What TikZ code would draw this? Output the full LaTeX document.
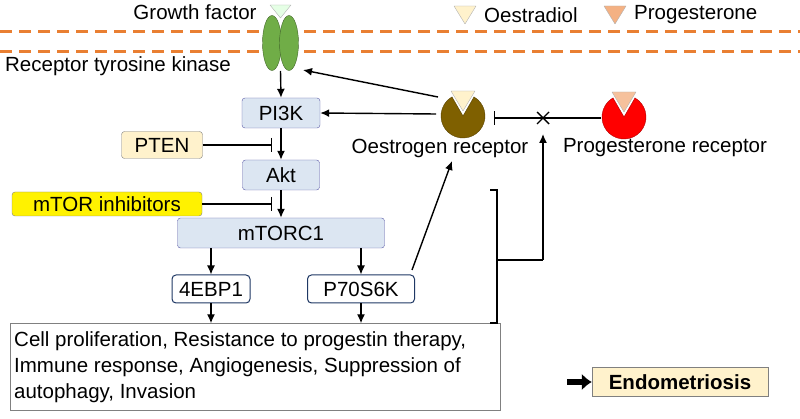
\documentclass[tikz,border=0pt]{standalone}
\usepackage{fontspec}
\setmainfont{Liberation Sans}
\usetikzlibrary{arrows.meta,shapes.geometric,calc}
\definecolor{bl}{HTML}{DCE6F2}
\definecolor{dg}{HTML}{1F3864}
\definecolor{orng}{HTML}{E97F32}
\definecolor{olive}{HTML}{7F6000}
\definecolor{cream}{HTML}{FFF2CC}
\definecolor{peach}{HTML}{F4B183}
\definecolor{gr}{HTML}{70AD47}
\begin{document}
\begin{tikzpicture}[x=1pt,y=-1pt,
  every node/.style={font=\fontsize{20.5}{24}\selectfont, inner sep=0pt},
  bx/.style={draw=gray!70!blue, fill=bl, rounded corners=3pt, minimum height=30pt},
  wb/.style={draw=dg, fill=white, rounded corners=4pt, minimum height=28pt, line width=1pt},
  ar/.style={-{Latex[length=9pt,width=8pt]}, line width=1.4pt},
  inh/.style={-{Bar[width=14pt]}, line width=1.4pt},
  tri/.style={draw=gray!60, line join=round}]
\useasboundingbox (0,0) rectangle (800,419);
\draw[orng, line width=3pt, dash pattern=on 12pt off 7pt] (0,32) -- (800,32) (0,52) -- (800,52);
% receptor
\node[fill=gr, draw=gr!60!black, ellipse, minimum width=19pt, minimum height=55pt] (e1) at (272,43) {};
\node[fill=gr, draw=gr!60!black, ellipse, minimum width=19pt, minimum height=55pt] (e2) at (289,43) {};
\draw[tri, fill=green!10] (270,5) -- (291,5) -- (280.5,18) -- cycle;
\node (gf) at (195,12) {Growth factor};
\node (rtk) at (118,66) {Receptor tyrosine kinase};
\coordinate (rb) at (280.5,71);
% boxes
\node[bx, minimum width=78pt] (pi3k) at (281,113) {PI3K};
\node[bx, minimum width=77pt] (akt) at (281,175) {Akt};
\node[bx, minimum width=207pt] (mtorc) at (281,233) {mTORC1};
\node[draw=gray, fill=cream, rounded corners=3pt, minimum width=81pt, minimum height=27pt] (pten) at (162,145) {PTEN};
\node[draw=gray, fill=yellow, rounded corners=3pt, minimum width=190pt, minimum height=24pt] (mti) at (107,204) {mTOR inhibitors};
\node[wb, minimum width=78pt] (ebp) at (211,289) {4EBP1};
\node[wb, minimum width=107pt] (p70) at (361,289) {P70S6K};
\node[draw=gray, fill=white, minimum width=490pt, minimum height=87pt] (big) at (255,367) {};
\node[anchor=north west, align=left, font=\fontsize{20.5}{26}\selectfont] (bt) at (14,331)
 {Cell proliferation, Resistance to progestin therapy,\\Immune response, Angiogenesis, Suppression of\\autophagy, Invasion};
\node[draw=gray, fill=cream, minimum width=176pt, minimum height=29pt, font=\bfseries\fontsize{20.5}{24}\selectfont] (endo) at (680,382) {Endometriosis};
% receptors
\draw[fill=olive, draw=olive!70!black] (463,116) -- ++(-60:22) arc (-60:240:22) -- cycle;
\coordinate (er) at (463,116);
\draw[tri, fill=cream] (451,91) -- (475,91) -- (463,111) -- cycle;
\node (erl) at (440,148) {Oestrogen receptor};
\draw[fill=red, draw=red!70!black] (624,117) -- ++(-60:22) arc (-60:240:22) -- cycle;
\coordinate (pr) at (624,117);
\draw[tri, fill=peach!80!white] (612,92) -- (636,92) -- (624,112) -- cycle;
\node (prl) at (665,148) {Progesterone receptor};
% legend
\draw[tri, fill=cream] (454,6) -- (476,6) -- (465,24) -- cycle;
\node[anchor=west] (oel) at (484,15) {Oestradiol};
\draw[tri, fill=peach] (604,6) -- (626,6) -- (615,24) -- cycle;
\node[anchor=west] (pgl) at (634,15) {Progesterone};
% connectors
\draw[ar] (rb) -- (pi3k.north);
\draw[ar] (pi3k) -- (akt);
\draw[ar] (akt) -- (mtorc);
\draw[ar] (ebp.north |- mtorc.south) -- (ebp.north);
\draw[ar] (p70.north |- mtorc.south) -- (p70.north);
\draw[ar] (ebp.south) -- (ebp.south |- big.north);
\draw[ar] (p70.south) -- (p70.south |- big.north);
\draw[inh] (pten.east) -- (272,145);
\draw[inh] (mti.east) -- (272,204);
\draw[ar] (436,114) -- (pi3k.east);
\draw[ar] (438,97) -- (303,70);
\draw[ar] (412,270) -- (452,161);
\coordinate (x) at (543,118);
\draw[inh] (601,118) -- (494,118);
\draw[line width=1.4pt] ($(x)+(-6,-6)$) -- ++(12,12) ($(x)+(-6,6)$) -- ++(12,-12);
\draw[line width=1.4pt] (490,190) -- (497,190) -- (497,323) -- (490,323) (497,260) -- (543,260);
\draw[ar] (543,260) -- (543,134);
\draw[-{Latex[length=10pt,width=17pt]}, line width=6pt] (567,382) -- (endo.west);
\end{tikzpicture}
\end{document}
